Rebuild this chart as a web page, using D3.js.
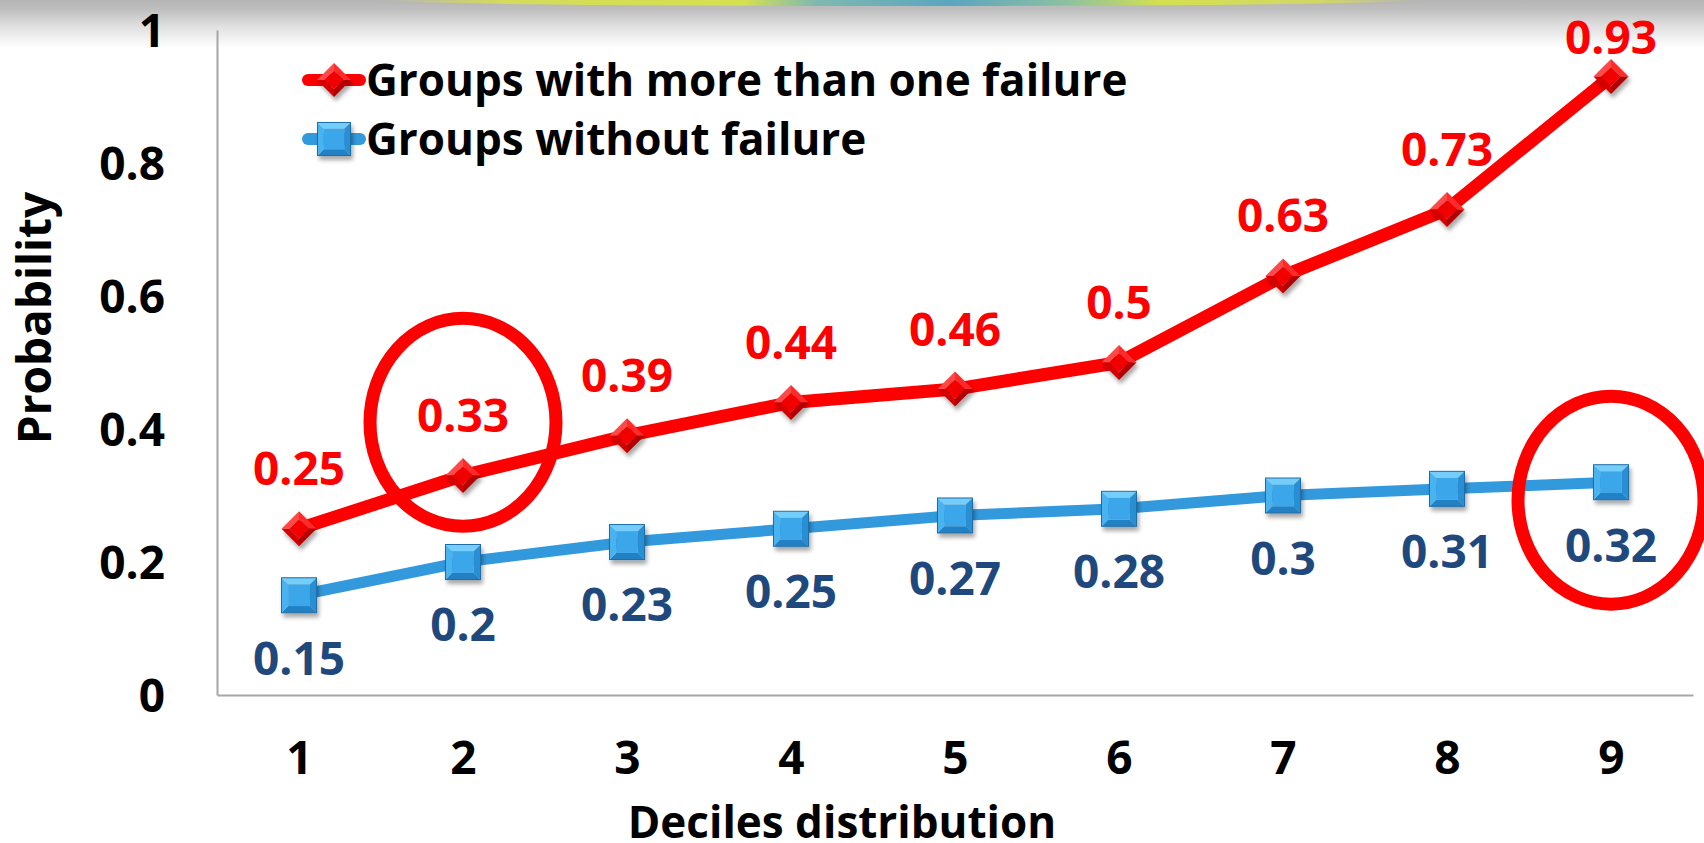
<!DOCTYPE html>
<html><head><meta charset="utf-8">
<script src="https://cdn.jsdelivr.net/npm/d3@7"></script>
<style>
html,body{margin:0;padding:0;background:#fff;overflow:hidden}
svg{display:block}
text{font-family:"Open Sans",Lato,sans-serif;font-weight:700}
</style>
</head><body>
<svg id="chart" width="1704" height="843"></svg>
<script>
// ---- data ----
const categories = ["1","2","3","4","5","6","7","8","9"];
const seriesNames = ["Groups with more than one failure", "Groups without failure"];
const moreThanOneFailure = [0.25, 0.33, 0.39, 0.44, 0.46, 0.5, 0.63, 0.73, 0.93];
const withoutFailure = [0.15, 0.2, 0.23, 0.25, 0.27, 0.28, 0.3, 0.31, 0.32];
const yTicks = [0, 0.2, 0.4, 0.6, 0.8, 1];
const yTickLabels = ["0", "0.2", "0.4", "0.6", "0.8", "1"];
const xTitle = "Deciles distribution";
const yTitle = "Probability";
// annotation ellipses (category, value at centre)
const highlights = [{cat: "2", value: 0.41}, {cat: "9", value: 0.293}];

// ---- setup ----
const W = 1704, H = 843;
const svg = d3.select("#chart");
const FS = 46, FS_LEG = 44, FS_TITLE = 44;
const RED = "#FF0000", BLUE = "#3399DD", DARKBLUE = "#1F497D", AXIS = "#A6A6A6";

const x = d3.scalePoint().domain(categories).range([217, 1693]).padding(0.5);
const y = d3.scaleLinear().domain([0, 1]).range([695, 30]);

const defs = svg.append("defs");
const gGray = defs.append("linearGradient").attr("id", "topGray").attr("x1", 0).attr("y1", 0).attr("x2", 0).attr("y2", 1);
gGray.append("stop").attr("offset", 0).attr("stop-color", "#b4b4b4");
gGray.append("stop").attr("offset", 0.2).attr("stop-color", "#bfbfbf");
gGray.append("stop").attr("offset", 0.55).attr("stop-color", "#e0e0e0");
gGray.append("stop").attr("offset", 1).attr("stop-color", "#ffffff");
const gGlow = defs.append("linearGradient").attr("id", "topGlow").attr("x1", 0).attr("y1", 0).attr("x2", 1).attr("y2", 0);
[[0, "#d8e050", 0], [0.12, "#d8e050", 0.9], [0.35, "#d4e050", 1], [0.42, "#7fb8b0", 1], [0.55, "#5aa6c0", 1], [0.66, "#8cc0a0", 1], [0.75, "#d4e050", 1], [0.9, "#d8e050", 0.8], [1, "#d8e050", 0]]
  .forEach(s => gGlow.append("stop").attr("offset", s[0]).attr("stop-color", s[1]).attr("stop-opacity", s[2]));
const sh = defs.append("filter").attr("id", "shadow").attr("x", "-50%").attr("y", "-50%").attr("width", "200%").attr("height", "200%");
sh.append("feDropShadow").attr("dx", 2).attr("dy", 4).attr("stdDeviation", 2).attr("flood-color", "#000").attr("flood-opacity", 0.35);

// top band
svg.append("rect").attr("x", 0).attr("y", 0).attr("width", W).attr("height", 48).attr("fill", "url(#topGray)");
svg.append("ellipse").attr("cx", 900).attr("cy", 0).attr("rx", 520).attr("ry", 6).attr("fill", "url(#topGlow)");

// ---- axes ----
const yAxis = svg.append("g").attr("transform", `translate(${x.range()[0]},0)`)
  .call(d3.axisLeft(y).tickValues(yTicks).tickFormat((d, i) => yTickLabels[i]).tickSize(0).tickSizeOuter(0).tickPadding(52));
yAxis.select(".domain").attr("stroke", AXIS).attr("stroke-width", 2);
yAxis.selectAll("text").attr("font-size", FS).attr("fill", "#000").attr("font-family", null).attr("dy", "0.36em");

const xAxis = svg.append("g").attr("transform", `translate(0,${y(0)})`)
  .call(d3.axisBottom(x).tickSize(0).tickSizeOuter(0).tickPadding(0));
xAxis.select(".domain").attr("stroke", AXIS).attr("stroke-width", 2);
xAxis.selectAll("text").attr("font-size", FS).attr("fill", "#000").attr("font-family", null).attr("y", 79).attr("dy", 0);

svg.append("text").attr("x", 842).attr("y", 838).attr("text-anchor", "middle").attr("font-size", FS_TITLE).attr("fill", "#000").text(xTitle);
svg.append("text").attr("transform", "translate(51,318) rotate(-90)").attr("text-anchor", "middle").attr("font-size", 46).attr("fill", "#000").text(yTitle);

// ---- markers ----
function diamond(g, h) {
  const hi = h * 0.55;
  const facets = [
    [[-h, 0], [0, -h], [0, -hi], [-hi, 0], "#ff4a4a"],
    [[0, -h], [h, 0], [hi, 0], [0, -hi], "#ff2a2a"],
    [[h, 0], [0, h], [0, hi], [hi, 0], "#b00000"],
    [[0, h], [-h, 0], [-hi, 0], [0, hi], "#d40000"]
  ];
  facets.forEach(f => g.append("polygon").attr("points", f.slice(0, 4).map(p => p.join(",")).join(" ")).attr("fill", f[4]));
  g.append("polygon").attr("points", [[0, -hi], [hi, 0], [0, hi], [-hi, 0]].map(p => p.join(",")).join(" ")).attr("fill", "#f20000");
}
function square(g, s) {
  const si = s * 0.62;
  const facets = [
    [[-s, -s], [s, -s], [si, -si], [-si, -si], "#74cdfa"],
    [[s, -s], [s, s], [si, si], [si, -si], "#2c8fd2"],
    [[s, s], [-s, s], [-si, si], [si, si], "#2381c4"],
    [[-s, s], [-s, -s], [-si, -si], [-si, si], "#4ab3f0"]
  ];
  facets.forEach(f => g.append("polygon").attr("points", f.slice(0, 4).map(p => p.join(",")).join(" ")).attr("fill", f[4]));
  g.append("rect").attr("x", -si).attr("y", -si).attr("width", 2 * si).attr("height", 2 * si).attr("fill", "#3aa6ea");
  g.append("rect").attr("x", -s).attr("y", -s).attr("width", 2 * s).attr("height", 2 * s).attr("fill", "none").attr("stroke", "#1f6ea8").attr("stroke-width", 1);
}

// ---- lines ----
const line = d3.line().x((d, i) => x(categories[i])).y(d => y(d));
svg.append("path").datum(withoutFailure).attr("d", line).attr("fill", "none").attr("stroke", BLUE).attr("stroke-width", 11).attr("stroke-linejoin", "round");
svg.append("path").datum(moreThanOneFailure).attr("d", line).attr("fill", "none").attr("stroke", RED).attr("stroke-width", 13).attr("stroke-linejoin", "round");

svg.append("g").selectAll("g").data(withoutFailure).join("g")
  .attr("transform", (d, i) => `translate(${x(categories[i])},${y(d)})`).attr("filter", "url(#shadow)")
  .each(function () { square(d3.select(this), 17.5); });
svg.append("g").selectAll("g").data(moreThanOneFailure).join("g")
  .attr("transform", (d, i) => `translate(${x(categories[i])},${y(d)})`).attr("filter", "url(#shadow)")
  .each(function () { diamond(d3.select(this), 17.5); });

// ---- data labels ----
const off = 0.357 * FS;
svg.append("g").selectAll("text").data(moreThanOneFailure).join("text")
  .attr("x", (d, i) => x(categories[i])).attr("y", d => Math.max(38, y(d) - 60) + off)
  .attr("text-anchor", "middle").attr("font-size", FS).attr("fill", RED).text(d => String(d));
svg.append("g").selectAll("text").data(withoutFailure).join("text")
  .attr("x", (d, i) => x(categories[i])).attr("y", d => y(d) + 63 + off)
  .attr("text-anchor", "middle").attr("font-size", FS).attr("fill", DARKBLUE).text(d => String(d));

// ---- annotation ellipses ----
svg.append("g").selectAll("ellipse").data(highlights).join("ellipse")
  .attr("cx", d => x(d.cat)).attr("cy", d => y(d.value)).attr("rx", 93).attr("ry", 104)
  .attr("fill", "none").attr("stroke", RED).attr("stroke-width", 13);

// ---- legend ----
const legend = svg.append("g");
const legendItems = [
  {name: seriesNames[0], color: RED, cy: 80, kind: "diamond"},
  {name: seriesNames[1], color: BLUE, cy: 139, kind: "square"}
];
legendItems.forEach(it => {
  const g = legend.append("g");
  g.append("line").attr("x1", 308).attr("x2", 360).attr("y1", it.cy).attr("y2", it.cy)
    .attr("stroke", it.color).attr("stroke-width", 12).attr("stroke-linecap", "round");
  const m = g.append("g").attr("transform", `translate(334,${it.cy})`).attr("filter", "url(#shadow)");
  if (it.kind === "diamond") diamond(m, 17); else square(m, 16.5);
  g.append("text").attr("x", 366).attr("y", it.cy + 0.357 * FS_LEG).attr("font-size", FS_LEG).attr("fill", "#000").text(it.name);
});
</script>
</body></html>
